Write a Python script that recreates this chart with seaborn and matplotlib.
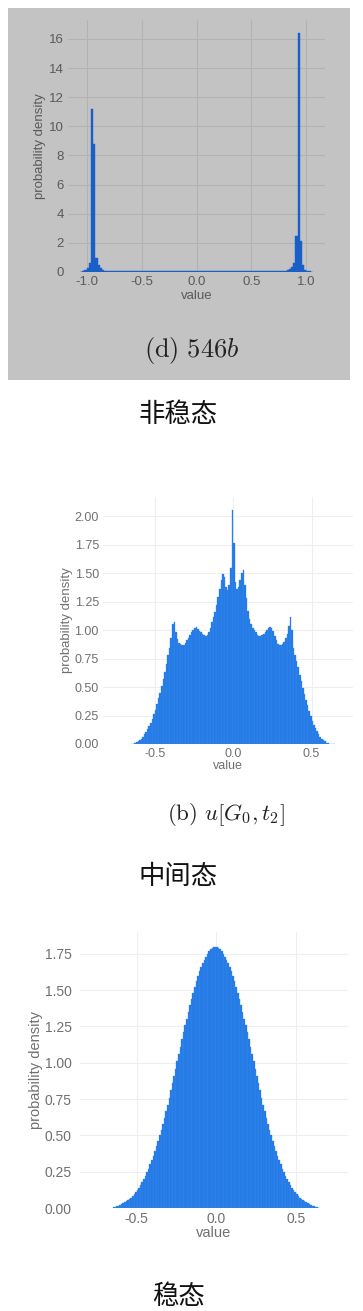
import numpy as np
import pandas as pd
import matplotlib
matplotlib.use("Agg")
import matplotlib.pyplot as plt
import seaborn as sns
from matplotlib.patches import Rectangle

# ---------------- data (bin densities) ----------------
# Panel 1: "(d) 546b" -- bins of width 0.02, centers -1.05 ... 1.05
p1_centers = np.round(np.linspace(-1.05, 1.05, 106), 2)
p1_density = [
    0.03, 0.06, 0.15, 0.30, 0.60, 11.2, 8.8, 0.95, 0.50, 0.25, 0.12, 0.07,
    0.05, 0.05, 0.05, 0.05, 0.05, 0.05, 0.05, 0.05, 0.05, 0.05,
    0.05, 0.05, 0.05, 0.05, 0.05, 0.05, 0.05, 0.05, 0.05, 0.05,
    0.05, 0.05, 0.05, 0.05, 0.05, 0.05, 0.05, 0.05, 0.05, 0.05,
    0.05, 0.05, 0.05, 0.05, 0.05, 0.05, 0.05, 0.05, 0.05, 0.05,
    0.05, 0.05, 0.05, 0.05, 0.05, 0.05, 0.05, 0.05, 0.05, 0.05,
    0.05, 0.05, 0.05, 0.05, 0.05, 0.05, 0.05, 0.05, 0.05, 0.05,
    0.05, 0.05, 0.05, 0.05, 0.05, 0.05, 0.05, 0.05, 0.05, 0.05,
    0.05, 0.05, 0.05, 0.05, 0.05, 0.05, 0.05, 0.05, 0.05, 0.05,
    0.06, 0.08, 0.12, 0.20, 0.35, 0.60, 2.5, 16.4, 2.1, 0.45, 0.15, 0.08, 0.04, 0.02,
]

# Panel 2: "(b) u[G0, t2]" -- bins of width 0.01, centers -0.645 ... 0.645
p2_centers = np.round(np.linspace(-0.645, 0.645, 130), 3)
p2_density = [
    0.0, 0.003, 0.008, 0.015, 0.025, 0.035, 0.048, 0.065, 0.085, 0.105,
    0.13, 0.155, 0.185, 0.22, 0.26, 0.30, 0.35, 0.40, 0.45, 0.51,
    0.57, 0.63, 0.70, 0.78, 0.84, 0.93, 1.05, 1.07, 0.98, 0.92,
    0.89, 0.88, 0.87, 0.87, 0.89, 0.91, 0.93, 0.96, 0.98, 1.00,
    1.02, 1.03, 1.01, 0.99, 0.98, 0.97, 0.96, 0.95, 0.96, 0.98,
    1.02, 1.07, 1.12, 1.16, 1.22, 1.29, 1.36, 1.44, 1.49, 1.47,
    1.38, 1.35, 1.40, 1.55, 2.06,
    1.77, 1.42, 1.36, 1.38, 1.44, 1.50, 1.53, 1.40, 1.28, 1.17,
    1.10, 1.05, 1.02, 1.00, 0.98, 0.96, 0.95, 0.95, 0.96, 0.97,
    0.98, 1.00, 1.02, 1.03, 1.02, 0.99, 0.95, 0.91, 0.88, 0.87,
    0.87, 0.88, 0.90, 0.93, 0.97, 1.04, 1.12, 1.00, 0.84, 0.78,
    0.73, 0.68, 0.61, 0.55, 0.49, 0.44, 0.39, 0.34, 0.29, 0.245,
    0.205, 0.17, 0.14, 0.11, 0.085, 0.065, 0.048, 0.034, 0.022, 0.013,
    0.007, 0.003, 0.001, 0.0, 0.0,
]

# Panel 3: steady state -- bins of width 0.01, centers -0.645 ... 0.645
p3_centers = np.round(np.linspace(-0.645, 0.645, 130), 3)
p3_density = [
    0.005, 0.008, 0.012, 0.016, 0.021, 0.026, 0.031, 0.038, 0.045, 0.053,
    0.062, 0.072, 0.083, 0.095, 0.11, 0.125, 0.14, 0.16, 0.18, 0.20,
    0.22, 0.25, 0.27, 0.30, 0.33, 0.36, 0.39, 0.43, 0.46, 0.50,
    0.54, 0.58, 0.62, 0.67, 0.71, 0.76, 0.81, 0.86, 0.91, 0.96,
    1.01, 1.06, 1.11, 1.16, 1.21, 1.26, 1.30, 1.35, 1.40, 1.44,
    1.48, 1.52, 1.56, 1.60, 1.63, 1.66, 1.69, 1.71, 1.73, 1.75,
    1.77, 1.78, 1.79, 1.80, 1.80,
    1.80, 1.79, 1.78, 1.77, 1.75, 1.73, 1.71, 1.69, 1.66, 1.63,
    1.60, 1.56, 1.52, 1.48, 1.44, 1.40, 1.35, 1.30, 1.26, 1.21,
    1.16, 1.11, 1.06, 1.01, 0.96, 0.91, 0.86, 0.81, 0.76, 0.71,
    0.67, 0.62, 0.58, 0.54, 0.50, 0.46, 0.43, 0.39, 0.36, 0.33,
    0.30, 0.27, 0.25, 0.22, 0.20, 0.18, 0.16, 0.14, 0.125, 0.11,
    0.095, 0.083, 0.072, 0.062, 0.053, 0.045, 0.038, 0.031, 0.026, 0.021,
    0.016, 0.012, 0.008, 0.005, 0.003,
]

p1_xticks = [-1.0, -0.5, 0.0, 0.5, 1.0]
p1_yticks = [0, 2, 4, 6, 8, 10, 12, 14, 16]
p2_xticks = [-0.5, 0.0, 0.5]
p2_yticks = [0.0, 0.25, 0.5, 0.75, 1.0, 1.25, 1.5, 1.75, 2.0]
p3_xticks = [-0.5, 0.0, 0.5]
p3_yticks = [0.0, 0.25, 0.5, 0.75, 1.0, 1.25, 1.5, 1.75]

caption1 = r"$\mathrm{(d)}\ 546b$"
caption2 = r"$\mathrm{(b)}\ u[G_0, t_2]$"
label1 = "非稳态"
label2 = "中间态"
label3 = "稳态"

# ---------------- style ----------------
sns.set_theme(style="whitegrid")
plt.rcParams["font.family"] = ["Liberation Sans", "DejaVu Sans"]
plt.rcParams["mathtext.fontset"] = "cm"

W, H = 363, 1311
fig = plt.figure(figsize=(W / 100, H / 100), dpi=100)
fig.patch.set_facecolor("white")

def fx(px):
    return px / W

def fy(py):
    return 1 - py / H

# grey box behind panel 1
grey = "#c3c3c3"
fig.patches.append(Rectangle((fx(8), fy(380)), fx(350) - fx(8), (380 - 8) / H,
                             transform=fig.transFigure, facecolor=grey,
                             edgecolor="none", zorder=-10))

def make_axes(l, r, t, b):
    ax = fig.add_axes([fx(l), fy(b), (r - l) / W, (b - t) / H])
    ax.set_zorder(5)
    return ax

def hist(ax, centers, dens, width, color, edge, lw):
    centers = np.asarray(centers, dtype=float)
    edges = list(np.concatenate([centers - width / 2, [centers[-1] + width / 2]]))
    df = pd.DataFrame({"value": centers, "density": np.asarray(dens, dtype=float)})
    sns.histplot(data=df, x="value", weights="density", bins=edges, stat="count",
                 ax=ax, color=color, alpha=1.0, edgecolor=edge, linewidth=lw)

def style_axes(ax, grid_color, tick_color, fs, facecolor, xpad, ypad):
    ax.set_facecolor(facecolor)
    for s in ax.spines.values():
        s.set_visible(False)
    ax.grid(True, color=grid_color, linewidth=0.8)
    ax.set_axisbelow(True)
    ax.tick_params(axis="both", length=0, labelsize=fs, labelcolor=tick_color)
    ax.tick_params(axis="x", pad=xpad)
    ax.tick_params(axis="y", pad=ypad)

# ---------------- panel 1 ----------------
ax1 = make_axes(68, 325, 20, 272)
hist(ax1, p1_centers, p1_density, 0.02, "#1a5fc8", "#1a5fc8", 0.3)
ax1.set_xlim(-1.17, 1.17)
ax1.set_ylim(0, 17.3)
ax1.set_xticks(p1_xticks)
ax1.set_xticklabels([f"{v:.1f}" for v in p1_xticks])
ax1.set_yticks(p1_yticks)
style_axes(ax1, "#b2b2b2", "#5a5a5a", 9.5, grey, 3, 3)
ax1.set_xlabel("value", fontsize=9.5, color="#5a5a5a", labelpad=1)
ax1.set_ylabel("probability density", fontsize=9.5, color="#5a5a5a", labelpad=2)

# ---------------- panel 2 ----------------
ax2 = make_axes(103, 353, 497, 744)
hist(ax2, p2_centers, p2_density, 0.01, "#1f78e6", "#3d8aea", 0.25)
ax2.set_xlim(-0.83, 0.764)
ax2.set_ylim(0, 2.17)
ax2.set_xticks(p2_xticks)
ax2.set_xticklabels([f"{v:.1f}" for v in p2_xticks])
ax2.set_yticks(p2_yticks)
ax2.set_yticklabels([f"{v:.2f}" for v in p2_yticks])
style_axes(ax2, "#efefef", "#707070", 9, "white", 3, 3)
ax2.set_xlabel("value", fontsize=9, color="#707070", labelpad=0)
ax2.set_ylabel("probability density", fontsize=9.5, color="#707070", labelpad=1)

# ---------------- panel 3 ----------------
ax3 = make_axes(80, 348, 932, 1208)
hist(ax3, p3_centers, p3_density, 0.01, "#1f78e6", "#3d8aea", 0.25)
ax3.set_xlim(-0.856, 0.827)
ax3.set_ylim(0, 1.90)
ax3.set_xticks(p3_xticks)
ax3.set_xticklabels([f"{v:.1f}" for v in p3_xticks])
ax3.set_yticks(p3_yticks)
ax3.set_yticklabels([f"{v:.2f}" for v in p3_yticks])
style_axes(ax3, "#efefef", "#707070", 10, "white", 3, 6)
ax3.set_xlabel("value", fontsize=10.5, color="#707070", labelpad=0)
ax3.set_ylabel("probability density", fontsize=10.5, color="#707070", labelpad=1)

# ---------------- captions ----------------
fig.text(fx(192), fy(351), caption1, fontsize=19, color="#222222",
         ha="center", va="center")
fig.text(fx(226), fy(814), caption2, fontsize=16.5, color="#222222",
         ha="center", va="center")
for txt, y in [(label1, 414), (label2, 877), (label3, 1297)]:
    fig.text(fx(178), fy(y), txt, fontsize=19, color="#111111",
             ha="center", va="center", family=["Noto Sans CJK SC", "DejaVu Sans"])

fig.savefig("out.png", dpi=100)
